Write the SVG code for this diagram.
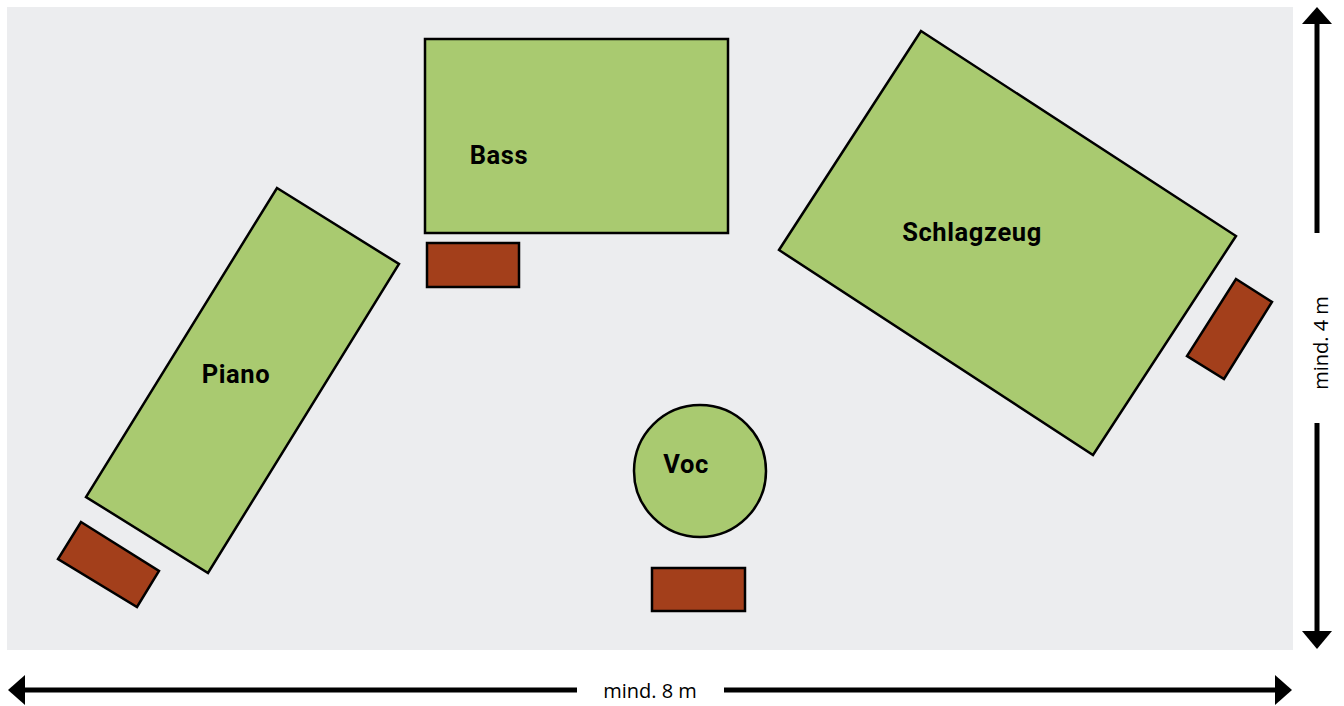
<svg xmlns="http://www.w3.org/2000/svg" width="1344" height="706" viewBox="0 0 1344 706">
<style>
.area{fill:#ecedef}
.inst{fill:#a9ca70;stroke:#000;stroke-width:2.5;stroke-linejoin:miter}
.amp{fill:#a33f1b;stroke:#000;stroke-width:2.5}
.lbl{font-family:Roboto,"Liberation Sans",sans-serif;font-weight:bold;font-size:25.5px;letter-spacing:0.6px;fill:#000}
.dim{font-family:"Open Sans","Noto Sans",sans-serif;font-size:20px;fill:#000}
.line{stroke:#000;stroke-width:5;fill:none}
.head{fill:#000}
</style>
<rect class="area" x="7" y="7" width="1286" height="643"/>
<g id="piano">
<polygon class="inst" points="277,188 399,264 208,573 86,497"/>
<text class="lbl" x="236" y="383" text-anchor="middle">Piano</text>
</g>
<g id="piano-amp"><polygon class="amp" points="81,522 159,571 137,607 58,559"/></g>
<g id="bass">
<rect class="inst" x="425" y="39" width="303" height="194"/>
<text class="lbl" x="499" y="164" text-anchor="middle">Bass</text>
</g>
<g id="bass-amp"><rect class="amp" x="427" y="243" width="92" height="44"/></g>
<g id="schlagzeug">
<polygon class="inst" points="921,31 1236,236 1093,455 779,250"/>
<text class="lbl" x="972" y="241" text-anchor="middle">Schlagzeug</text>
</g>
<g id="schlagzeug-amp"><polygon class="amp" points="1236,279 1272,302 1224,379 1187,356"/></g>
<g id="voc">
<circle class="inst" cx="700" cy="471" r="66"/>
<text class="lbl" x="686" y="473" text-anchor="middle">Voc</text>
</g>
<g id="voc-amp"><rect class="amp" x="652" y="568" width="93" height="43"/></g>
<g id="connectors">
<line class="line" x1="1317" y1="233" x2="1317" y2="22"/>
<polygon class="head" points="1317,7 1332,24 1302,24"/>
<line class="line" x1="1317" y1="423" x2="1317" y2="633"/>
<polygon class="head" points="1317,649 1332,631 1302,631"/>
<line class="line" x1="577" y1="690" x2="23" y2="690"/>
<polygon class="head" points="8,690 25,675 25,705"/>
<line class="line" x1="724" y1="690" x2="1277" y2="690"/>
<polygon class="head" points="1292,690 1275,675 1275,705"/>
</g>
<text class="dim" x="650" y="698" text-anchor="middle">mind. 8 m</text>
<text class="dim" transform="translate(1328,343) rotate(-90)" text-anchor="middle">mind. 4 m</text>
</svg>
